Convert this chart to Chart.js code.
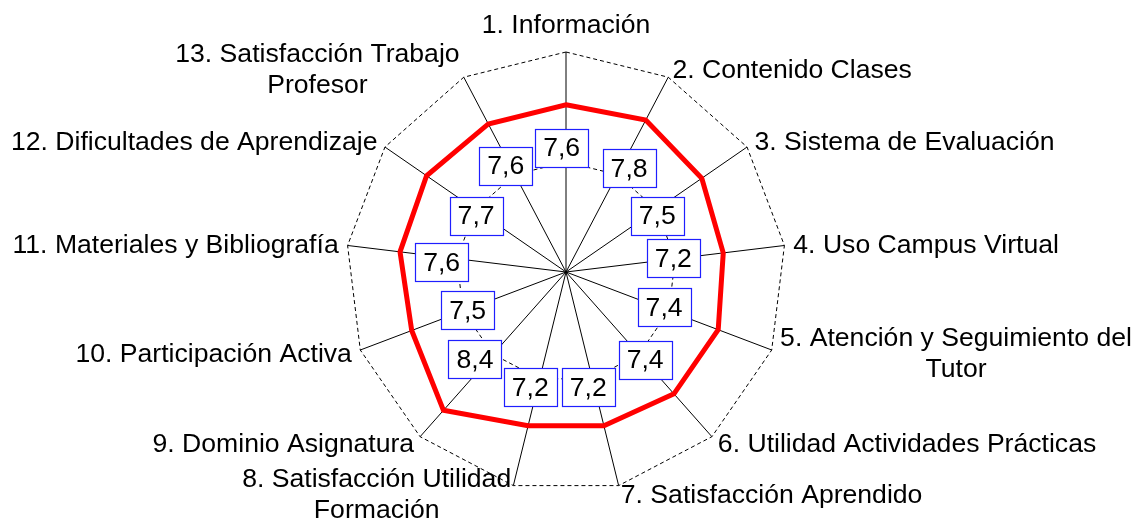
<!DOCTYPE html>
<html>
<head>
<meta charset="utf-8">
<script src="https://cdn.jsdelivr.net/npm/chart.js@4"></script>
<style>
  html, body { margin: 0; padding: 0; background: #fff; }
  #wrap { width: 1135px; height: 520px; }
</style>
</head>
<body>
<div id="wrap"><canvas id="radar"></canvas></div>
<script>
// categorias (ejes) y puntuaciones medias
const categorias = [
  "1. Información",
  "2. Contenido Clases",
  "3. Sistema de Evaluación",
  "4. Uso Campus Virtual",
  ["5. Atención y Seguimiento del", "Tutor"],
  "6. Utilidad Actividades Prácticas",
  "7. Satisfacción Aprendido",
  ["8. Satisfacción Utilidad", "Formación"],
  "9. Dominio Asignatura",
  "10. Participación Activa",
  "11. Materiales y Bibliografía",
  "12. Dificultades de Aprendizaje",
  ["13. Satisfacción Trabajo", "Profesor"],
];

const puntuaciones = [7.6, 7.8, 7.5, 7.2, 7.4, 7.4, 7.2, 7.2, 8.4, 7.5, 7.6, 7.7, 7.6];

const escalaMin = 0;
const escalaMax = 10;
const escalaPaso = 5;

const fuente = "'Liberation Sans', Arial, sans-serif";

// donde van las cajitas de valor: fraccion del radio y giro en grados
const cajaRadio = [0.566, 0.552, 0.487, 0.492, 0.474, 0.537, 0.534, 0.549, 0.573, 0.48, 0.567, 0.482, 0.555];
const cajaGiro = [-2, 3.6, 3, -0.4, -0.9, -0.5, 2.9, 3.4, 4.7, -0.6, -2.5, -2.6, -1.9];

const etiquetasPlugin = {
  id: "etiquetas",
  afterDatasetsDraw(chart) {
    const r = chart.scales.r;
    const ctx = chart.ctx;
    ctx.save();
    ctx.font = "26.6px " + fuente;
    ctx.textAlign = "center";
    ctx.textBaseline = "middle";
    puntuaciones.forEach((v, i) => {
      const p = r.getPointPosition(i, r.drawingArea * cajaRadio[i], cajaGiro[i] * Math.PI / 180);
      const w = 53, h = 38;
      const x = Math.round(p.x - w / 2) + 0.5;
      const y = Math.round(p.y - h / 2) + 0.5;
      ctx.fillStyle = "#ffffff";
      ctx.fillRect(x, y, w, h);
      ctx.strokeStyle = "#1f1fff";
      ctx.lineWidth = 1.2;
      ctx.strokeRect(x, y, w, h);
      ctx.fillStyle = "#000000";
      ctx.fillText(v.toFixed(1).replace(".", ","), p.x, p.y + 1);
    });
    ctx.restore();
  },
  afterDraw(chart) {
    const r = chart.scales.r;
    const ctx = chart.ctx;
    ctx.save();
    ctx.font = "26.6px " + fuente;
    ctx.fillStyle = "#000000";
    ctx.textAlign = "center";
    ctx.textBaseline = "middle";
    const lh = 31;
    categorias.forEach((lab, i) => {
      const lineas = Array.isArray(lab) ? lab : [lab];
      const a = r.getIndexAngle(i);
      const s = Math.sin(a), c = Math.cos(a);
      const p = r.getPointPosition(i, r.drawingArea + 9);
      const w = Math.max(...lineas.map(l => ctx.measureText(l).width));
      let cx;
      if (Math.abs(s) < 0.05) cx = p.x;
      else if (s > 0) cx = p.x + w / 2;
      else cx = p.x - w / 2;
      const alto = lineas.length * lh;
      let top = p.y - alto / 2;
      if (Math.abs(s) < 0.05 && c > 0) top = p.y - alto - 3;
      lineas.forEach((l, k) => ctx.fillText(l, cx, top + lh * k + lh / 2 + 1));
    });
    ctx.restore();
  },
};

const ctx = document.getElementById("radar");

new Chart(ctx, {
  type: "radar",
  data: {
    labels: categorias,
    datasets: [
      {
        label: "Media",
        data: puntuaciones,
        borderColor: "#ff0000",
        borderWidth: 5,
        borderJoinStyle: "miter",
        fill: false,
        pointRadius: 0,
        pointHoverRadius: 0,
      },
    ],
  },
  options: {
    responsive: true,
    maintainAspectRatio: false,
    animation: false,
    layout: { padding: { top: 52, bottom: 28, left: 0, right: 3 } },
    plugins: {
      legend: { display: false },
      tooltip: { enabled: false },
    },
    scales: {
      r: {
        min: escalaMin,
        max: escalaMax,
        ticks: { display: false, stepSize: escalaPaso },
        grid: { color: "#000000", lineWidth: 1 },
        border: { dash: [4, 3] },
        angleLines: { color: "#000000", lineWidth: 1 },
        pointLabels: { display: false },
      },
    },
  },
  plugins: [etiquetasPlugin],
});
</script>
</body>
</html>
